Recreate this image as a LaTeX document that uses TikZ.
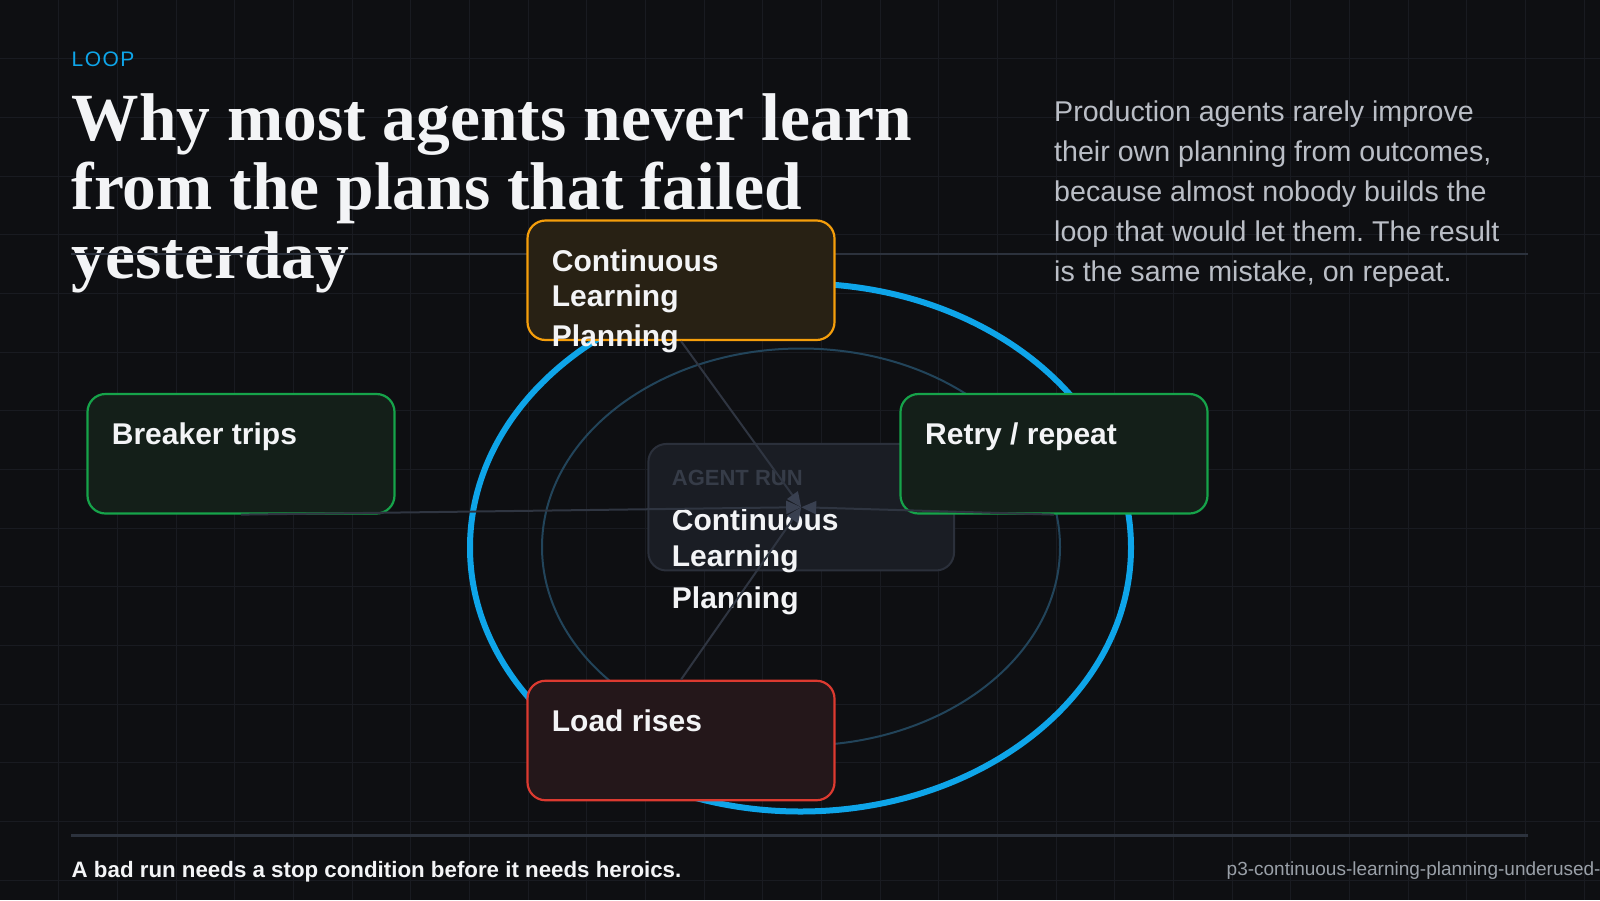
\documentclass[tikz,border=0pt]{standalone}
\usepackage{fontspec}
\setmainfont{Liberation Sans}
\newfontfamily\titlefont{Liberation Serif}
\newfontfamily\kickerfont{Liberation Sans}[LetterSpace=7]
\usetikzlibrary{arrows.meta}
\frenchspacing
\definecolor{bgc}{HTML}{0E0F12}
\definecolor{gridc}{HTML}{191B21}
\definecolor{rulec}{HTML}{2C323D}
\definecolor{bluec}{HTML}{0EA5E9}
\definecolor{innerc}{HTML}{22445A}
\definecolor{orangec}{HTML}{F59E0B}
\definecolor{orangef}{HTML}{282114}
\definecolor{greenc}{HTML}{16A34A}
\definecolor{greenf}{HTML}{141F19}
\definecolor{redc}{HTML}{DC3A30}
\definecolor{redf}{HTML}{24171A}
\definecolor{runf}{HTML}{1A1D24}
\definecolor{rund}{HTML}{2B303B}
\definecolor{connc}{HTML}{2F3541}
\definecolor{arrowc}{HTML}{394050}
\definecolor{dimtext}{HTML}{363C48}
\definecolor{paratext}{HTML}{BABEC6}
\definecolor{foottext}{HTML}{9AA0A8}
\definecolor{whitetext}{HTML}{F3F4F6}
\tikzset{
  gridline/.style={draw=gridc, line width=1pt},
  hrule/.style={draw=rulec, line width=2.5pt},
  cardbox/.style={draw, line width=2.2pt, rounded corners=18pt, minimum width=307pt, minimum height=119.5pt, inner sep=0pt},
  runbox/.style={draw=rund, fill=runf, line width=2pt, rounded corners=18pt, minimum width=305.7pt, minimum height=126.5pt, inner sep=0pt},
  cardtext/.style={anchor=base west, inner sep=0pt, text=whitetext, font=\fontsize{30}{36}\selectfont\bfseries},
  conn/.style={draw=connc, line width=2pt, -{Triangle[length=15pt,width=13pt,color=arrowc]}},
  paratxt/.style={anchor=base west, inner sep=0pt, text=paratext, font=\fontsize{28.6}{34}\selectfont},
  titletxt/.style={anchor=base west, inner sep=0pt, text=whitetext, font=\titlefont\fontsize{67.5}{69}\selectfont\bfseries}
}
\begin{document}
\begin{tikzpicture}[x=1pt,y=-1pt]
\useasboundingbox (0,0) rectangle (1600,900);
\fill[bgc] (0,0) rectangle (1600,900);
\foreach \i in {1,...,27} {\draw[gridline] (\i*58.667,0) -- (\i*58.667,900);}
\foreach \j in {1,...,15} {\draw[gridline] (0,\j*58.667) -- (1600,\j*58.667);}

% header
\node[anchor=base west, inner sep=0pt, text=bluec, font=\kickerfont\fontsize{21}{24}\selectfont] (kicker) at (71.5,66.7) {LOOP};
\node[titletxt] (title1) at (71.5,140) {Why most agents never learn};
\node[titletxt] (title2) at (71.5,209.3) {from the plans that failed};
\node[titletxt] (title3) at (71.5,278) {yesterday};
\coordinate (ruleL) at (71,254);
\coordinate (ruleR) at (1528,254);
\draw[hrule] (ruleL) -- (ruleR);

\node[paratxt] (p1) at (1054,121.7) {Production agents rarely improve};
\node[paratxt] (p2) at (1054,161.7) {their own planning from outcomes,};
\node[paratxt] (p3) at (1054,201.7) {because almost nobody builds the};
\node[paratxt] (p4) at (1054,241.7) {loop that would let them. The result};
\node[paratxt] (p5) at (1054,281.7) {is the same mistake, on repeat.};

% rings
\draw[bluec, line width=6pt] (800.5,547.5) ellipse [x radius=330.5, y radius=264];
\draw[innerc, line width=2pt] (801,547) ellipse [x radius=259, y radius=198.5];

% centre
\node[runbox] (run) at (801.2,507.2) {};
\node[anchor=base west, inner sep=0pt, text=dimtext, font=\fontsize{22}{26}\selectfont\bfseries] (runlabel) at (671.7,485) {AGENT RUN};
\node[cardtext] (r1) at (671.7,530.7) {Continuous};
\node[cardtext] (r2) at (671.7,566.7) {Learning};
\node[cardtext] (r3) at (671.7,608) {Planning};

% cards
\node[cardbox, draw=orangec, fill=orangef] (top) at (681,280.25) {};
\node[cardbox, draw=greenc, fill=greenf] (breaker) at (241,453.75) {};
\node[cardbox, draw=greenc, fill=greenf] (retry) at (1054,453.75) {};
\node[cardbox, draw=redc, fill=redf] (load) at (681,740.5) {};

\node[cardtext] (c1) at (551.7,271) {Continuous};
\node[cardtext] (c2) at (551.7,306.7) {Learning};
\node[cardtext] (c3) at (551.7,346.7) {Planning};
\node[cardtext] (b1) at (111.7,444) {Breaker trips};
\node[cardtext] (rt1) at (925,444) {Retry / repeat};
\node[cardtext] (l1) at (551.7,731) {Load rises};

% connectors
\draw[conn] (top.south) -- (run.center);
\draw[conn] (load.north) -- (run.center);
\draw[conn] (breaker.south) -- (run.center);
\draw[conn] (retry.south) -- (run.center);

% footer
\coordinate (footL) at (71,835.7);
\coordinate (footR) at (1528,835.7);
\draw[hrule] (footL) -- (footR);
\node[anchor=base west, inner sep=0pt, text=whitetext, font=\fontsize{22.3}{26}\selectfont\bfseries] (foot) at (71.5,877) {A bad run needs a stop condition before it needs heroics.};
\node[anchor=base west, inner sep=0pt, text=foottext, font=\fontsize{19}{22}\selectfont] (slug) at (1226.5,875) {p3-continuous-learning-planning-underused-};
\end{tikzpicture}
\end{document}
